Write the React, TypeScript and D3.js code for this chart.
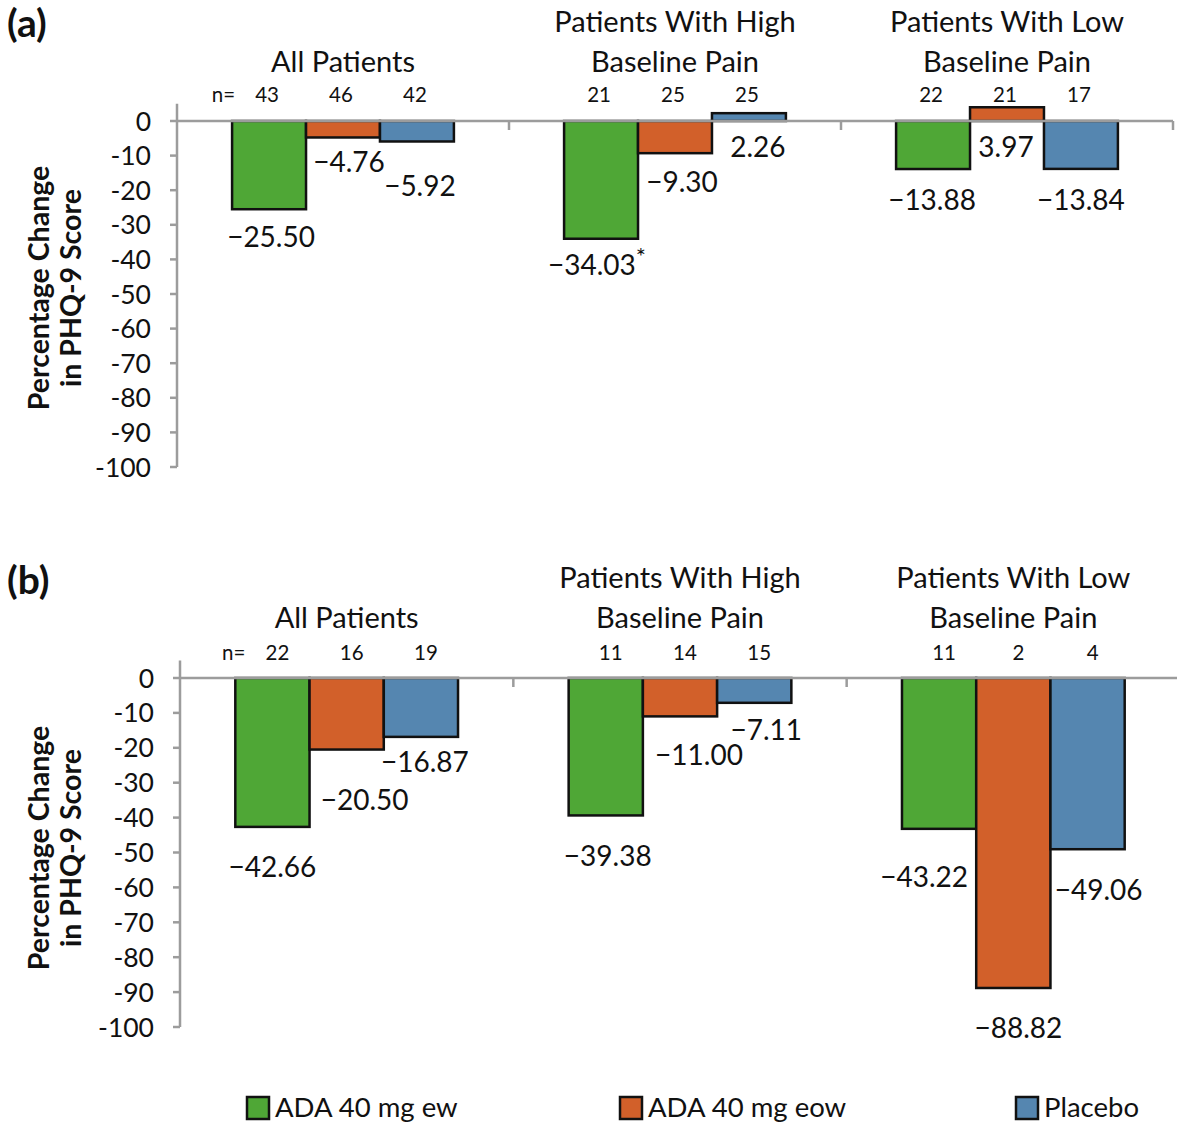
import React from "react";
import * as d3 from "d3";

// Subgroups shown along the x axis (title lines per subgroup)
const groupKeys = ["all", "high", "low"];
const groupTitles = [
  ["All Patients"],
  ["Patients With High", "Baseline Pain"],
  ["Patients With Low", "Baseline Pain"],
];

const seriesNames = ["ADA 40 mg ew", "ADA 40 mg eow", "Placebo"];
const seriesColors = ["#4fa736", "#d2602a", "#5586b0"];

const yTicks = [0, -10, -20, -30, -40, -50, -60, -70, -80, -90, -100];

// Panel (a): percentage change in PHQ-9 score
const aEw = [-25.5, -34.03, -13.88];
const aEow = [-4.76, -9.3, 3.97];
const aPlacebo = [-5.92, 2.26, -13.84];
const aEwN = [43, 21, 22];
const aEowN = [46, 25, 21];
const aPlaceboN = [42, 25, 17];
const aEwMarks = ["", "*", ""];

// Panel (b): percentage change in PHQ-9 score
const bEw = [-42.66, -39.38, -43.22];
const bEow = [-20.5, -11.0, -88.82];
const bPlacebo = [-16.87, -7.11, -49.06];
const bEwN = [22, 11, 11];
const bEowN = [16, 14, 2];
const bPlaceboN = [19, 15, 4];

// Value-label placement relative to each bar's lower end: [dx, dy] per series, per group
const aLabelNudge = [
  [[2, 38], [-4, 36], [-1, 41]],
  [[6, 35], [7, 39], [-1, 36]],
  [[3, 55], [9, 36], [0, 41]],
];
const bLabelNudge = [
  [[0, 50], [2, 51], [-15, 58]],
  [[18, 60], [19, 49], [5, 50]],
  [[4, 35], [12, 37], [11, 51]],
];

const FONT = "Lato, 'Open Sans', sans-serif";
const AXIS = "#9c9c9c";
const fmt = d3.format(".2f");

type PanelProps = {
  letter: string;
  values: number[][];
  counts: number[][];
  marks: string[][];
  nudges: number[][][];
  layout: {
    letterY: number;
    titleY1: number;
    titleY2: number;
    nY: number;
    nDx: number;
    yZero: number;
    yMin: number;
    left: number;
    right: number;
    yTitleCenter: number;
  };
};

function Panel({ letter, values, counts, marks, nudges, layout }: PanelProps) {
  const L = layout;
  const y = d3
    .scaleLinear()
    .domain([0, -100])
    .range([L.yZero, L.yMin]);
  const x0 = d3.scaleBand<string>().domain(groupKeys).range([L.left, L.right]).paddingInner(0).paddingOuter(0);
  const x1 = d3
    .scaleBand<string>()
    .domain(seriesNames)
    .range([0, x0.bandwidth()])
    .paddingInner(0)
    .paddingOuter(0.745);
  const yTop = y(5);
  const bw = x1.bandwidth();

  return (
    <g>
      <text x={7} y={L.letterY} fontFamily={FONT} fontWeight={700} fontSize={39} fill="#111">
        {letter}
      </text>

      {/* y axis title */}
      <g transform={`translate(49, ${L.yTitleCenter}) rotate(-90)`}>
        <text x={0} y={0} textAnchor="middle" fontFamily={FONT} fontWeight={700} fontSize={28.5} fill="#111">
          Percentage Change
        </text>
        <text x={0} y={32} textAnchor="middle" fontFamily={FONT} fontWeight={700} fontSize={28.5} fill="#111">
          in PHQ-9 Score
        </text>
      </g>

      {/* y axis */}
      <line x1={L.left} x2={L.left} y1={yTop} y2={y(-100)} stroke={AXIS} strokeWidth={2.5} />
      {yTicks.map((t) => (
        <g key={t}>
          <line x1={L.left - 7} x2={L.left} y1={y(t)} y2={y(t)} stroke={AXIS} strokeWidth={2.5} />
          <text
            x={L.left - 26}
            y={y(t)}
            dy="0.36em"
            textAnchor="end"
            fontFamily={FONT}
            fontSize={26.5}
            fill="#111"
          >
            {t}
          </text>
        </g>
      ))}

      {/* bars */}
      {groupKeys.map((g, gi) =>
        seriesNames.map((s, si) => {
          const v = values[si][gi];
          const bx = (x0(g) as number) + (x1(s) as number);
          const y1 = y(Math.max(v, 0));
          const y2 = y(Math.min(v, 0));
          return (
            <rect
              key={`${g}-${s}`}
              x={bx}
              y={y1}
              width={bw}
              height={y2 - y1}
              fill={seriesColors[si]}
              stroke="#111"
              strokeWidth={2.5}
            />
          );
        })
      )}

      {/* x axis with group separators */}
      <line x1={L.left} x2={L.right} y1={y(0)} y2={y(0)} stroke={AXIS} strokeWidth={2.5} />
      {groupKeys.map((g) => {
        const xe = (x0(g) as number) + x0.bandwidth();
        return <line key={g} x1={xe} x2={xe} y1={y(0)} y2={y(0) + 9} stroke={AXIS} strokeWidth={2.5} />;
      })}

      {/* group titles */}
      {groupKeys.map((g, gi) => {
        const cx = (x0(g) as number) + x0.bandwidth() / 2;
        const lines = groupTitles[gi];
        const ys = lines.length === 1 ? [L.titleY2] : [L.titleY1, L.titleY2];
        return lines.map((ln, li) => (
          <text
            key={`${g}-${li}`}
            x={cx}
            y={ys[li]}
            textAnchor="middle"
            fontFamily={FONT}
            fontSize={29}
            fill="#111"
          >
            {ln}
          </text>
        ));
      })}

      {/* sample sizes */}
      <text
        x={(x0(groupKeys[0]) as number) + (x1(seriesNames[0]) as number) + L.nDx + 5}
        y={L.nY}
        textAnchor="end"
        fontFamily={FONT}
        fontSize={20.5}
        fill="#111"
      >
        n=
      </text>
      {groupKeys.map((g, gi) =>
        seriesNames.map((s, si) => (
          <text
            key={`n-${g}-${s}`}
            x={(x0(g) as number) + (x1(s) as number) + bw / 2 + L.nDx}
            y={L.nY}
            textAnchor="middle"
            fontFamily={FONT}
            fontSize={20.5}
            fill="#111"
          >
            {counts[si][gi]}
          </text>
        ))
      )}

      {/* value labels */}
      {groupKeys.map((g, gi) =>
        seriesNames.map((s, si) => {
          const v = values[si][gi];
          const [dx, dy] = nudges[si][gi];
          const cx = (x0(g) as number) + (x1(s) as number) + bw / 2 + dx;
          const by = y(Math.min(v, 0)) + dy;
          const mark = marks[si][gi];
          return (
            <text
              key={`v-${g}-${s}`}
              x={cx}
              y={by}
              textAnchor="middle"
              fontFamily={FONT}
              fontSize={28}
              fill="#111"
            >
              {fmt(v)}
              {mark ? (
                <tspan fontSize={24} dy={-10}>
                  {mark}
                </tspan>
              ) : null}
            </text>
          );
        })
      )}
    </g>
  );
}

// Legend entries along the bottom
const legendX = [247, 620, 1016];

export default function App() {
  return (
    <svg
      width={1177}
      height={1123}
      style={{ position: "absolute", left: 0, top: 0, background: "#fff" }}
    >
      <rect x={0} y={0} width={1177} height={1123} fill="#fff" />
      <Panel
        letter="(a)"
        values={[aEw, aEow, aPlacebo]}
        counts={[aEwN, aEowN, aPlaceboN]}
        marks={[aEwMarks, ["", "", ""], ["", "", ""]]}
        nudges={aLabelNudge}
        layout={{
          letterY: 37,
          titleY1: 32,
          titleY2: 72,
          nY: 102,
          nDx: -2,
          yZero: 121,
          yMin: 467,
          left: 177,
          right: 1173,
          yTitleCenter: 288,
        }}
      />
      <Panel
        letter="(b)"
        values={[bEw, bEow, bPlacebo]}
        counts={[bEwN, bEowN, bPlaceboN]}
        marks={[["", "", ""], ["", "", ""], ["", "", ""]]}
        nudges={bLabelNudge}
        layout={{
          letterY: 594,
          titleY1: 588,
          titleY2: 628,
          nY: 660,
          nDx: 5,
          yZero: 678,
          yMin: 1027,
          left: 180,
          right: 1180,
          yTitleCenter: 848,
        }}
      />
      {seriesNames.map((s, i) => (
        <g key={s} transform={`translate(${legendX[i]}, 1097)`}>
          <rect x={0} y={0} width={22} height={22} fill={seriesColors[i]} stroke="#111" strokeWidth={2.5} />
          <text x={28} y={20} fontFamily={FONT} fontSize={27.5} fill="#111">
            {s}
          </text>
        </g>
      ))}
    </svg>
  );
}
